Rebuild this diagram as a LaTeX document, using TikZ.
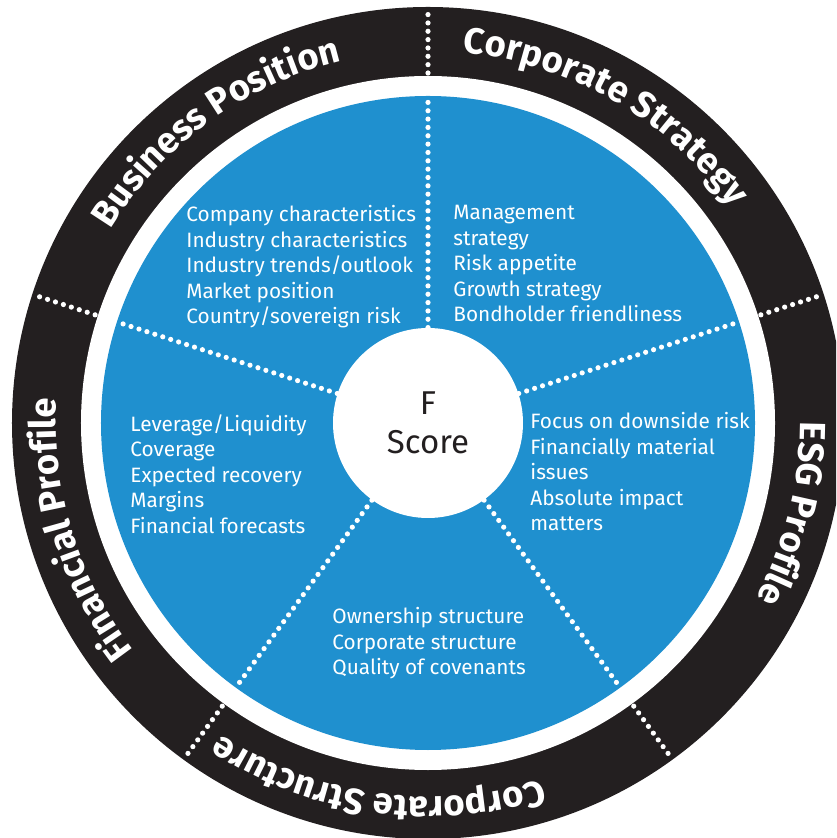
\documentclass[tikz,border=0pt]{standalone}
\usepackage{fontspec}
\setmainfont{Fira Sans}
\newfontfamily\ringfont{Fira Sans}
\usetikzlibrary{decorations.text}
\definecolor{fblue}{HTML}{1F90CF}
\definecolor{fblack}{HTML}{231F20}
\tikzstyle{itemtext} = [anchor=north west, align=left, inner sep=0pt, text=white, font=\fontsize{10.4}{12.75}\selectfont]
\tikzstyle{score} = [circle, fill=white, minimum size=95pt, inner sep=0pt, align=center, text=fblack, font=\fontsize{16.5}{19.5}\selectfont]
\tikzset{
  % line styles
  dots/.style={white, line width=2.6pt, line cap=round, dash pattern=on 0pt off 4.17pt},
  % ring labels
  ringlabel/.style={decorate, decoration={text along path, text align=center, text color=white,
      text={|\ringfont\bfseries\fontsize{18.2}{18.2}\selectfont|#1}}},
}
\begin{document}
\begin{tikzpicture}[x=0.5pt, y=0.5pt]
        \useasboundingbox (-428,-415) rectangle (408,423);
        \clip (-428,-415) rectangle (408,423);
        % Rings
        \fill[fblack] (0,0) circle[radius=416];
        \fill[white] (0,0) circle[radius=347];
        \fill[fblue] (0,0) circle[radius=327];
        \node(fscore)[score] at (0,0) {F\\Score};
        % Dividers
        \foreach \a in {18,90,162,234,306}{
            \coordinate(edge\a) at (\a:327);
            \coordinate(rin\a) at (\a:350);
            \coordinate(rout\a) at (\a:412);
            \draw[dots] (fscore.\a) -- (edge\a);
            \draw[dots] (rin\a) -- (rout\a);
        }
        % Ring labels
        \path[ringlabel={Business Position}] (166:372) arc[start angle=166, end angle=86, radius=372];
        \path[ringlabel={Corporate Strategy}] (100:372) arc[start angle=100, end angle=20, radius=372];
        \path[ringlabel={ESG Profile}] (26:372) arc[start angle=26, end angle=-54, radius=372];
        \path[ringlabel={Corporate Structure}] (302:374) arc[start angle=302, end angle=222, radius=374];
        \path[ringlabel={Financial Profile}] (237:372) arc[start angle=237, end angle=157, radius=372];
        % Segment texts
        \node(bizpos)[itemtext] at (-242,218) {Company characteristics\\Industry characteristics\\Industry trends/outlook\\Market position\\Country/sovereign risk};
        \node(corpstrat)[itemtext] at (25,218) {Management\\strategy\\Risk appetite\\Growth strategy\\Bondholder friendliness};
        \node(finprof)[itemtext] at (-298,9) {Leverage/Liquidity\\Coverage\\Expected recovery\\Margins\\Financial forecasts};
        \node(esg)[itemtext] at (102,11) {Focus on downside risk\\Financially material\\issues\\Absolute impact\\matters};
        \node(corpstruct)[itemtext] at (-96,-184) {Ownership structure\\Corporate structure\\Quality of covenants};
\end{tikzpicture}
\end{document}
